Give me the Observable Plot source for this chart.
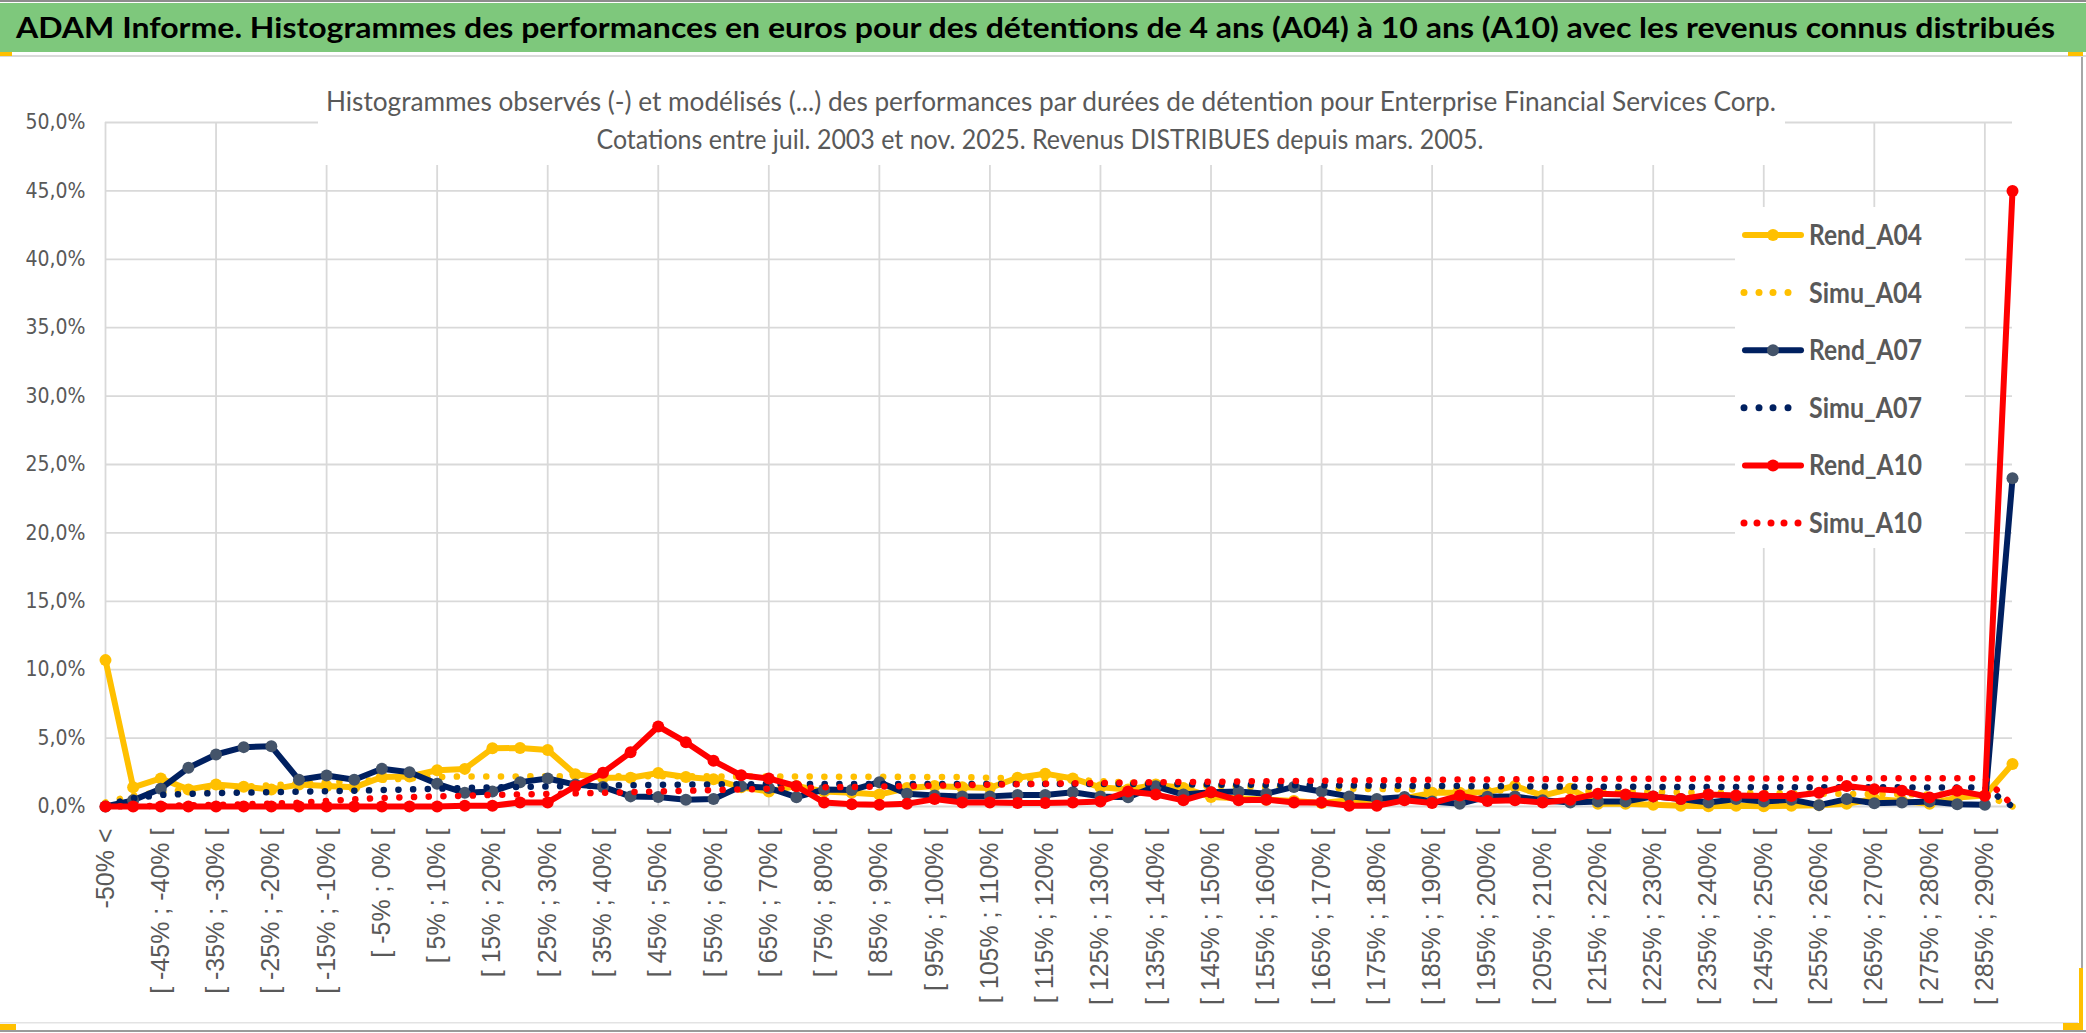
<!DOCTYPE html>
<html><head><meta charset="utf-8">
<script src="https://cdn.jsdelivr.net/npm/d3@7"></script>
<script src="https://cdn.jsdelivr.net/npm/@observablehq/plot@0.6"></script>
<style>
html,body{margin:0;padding:0;background:#fff;overflow:hidden;}
#wrap{position:relative;width:2086px;height:1033px;background:#fff;}
#wrap > svg{position:absolute;left:0;top:0;}
</style></head><body><div id="wrap"></div>
<script>
const categories = ["-50% <","[ -50% ; -45% [","[ -45% ; -40% [","[ -40% ; -35% [","[ -35% ; -30% [","[ -30% ; -25% [","[ -25% ; -20% [","[ -20% ; -15% [","[ -15% ; -10% [","[ -10% ; -5% [","[ -5% ; 0% [","[ 0% ; 5% [","[ 5% ; 10% [","[ 10% ; 15% [","[ 15% ; 20% [","[ 20% ; 25% [","[ 25% ; 30% [","[ 30% ; 35% [","[ 35% ; 40% [","[ 40% ; 45% [","[ 45% ; 50% [","[ 50% ; 55% [","[ 55% ; 60% [","[ 60% ; 65% [","[ 65% ; 70% [","[ 70% ; 75% [","[ 75% ; 80% [","[ 80% ; 85% [","[ 85% ; 90% [","[ 90% ; 95% [","[ 95% ; 100% [","[ 100% ; 105% [","[ 105% ; 110% [","[ 110% ; 115% [","[ 115% ; 120% [","[ 120% ; 125% [","[ 125% ; 130% [","[ 130% ; 135% [","[ 135% ; 140% [","[ 140% ; 145% [","[ 145% ; 150% [","[ 150% ; 155% [","[ 155% ; 160% [","[ 160% ; 165% [","[ 165% ; 170% [","[ 170% ; 175% [","[ 175% ; 180% [","[ 180% ; 185% [","[ 185% ; 190% [","[ 190% ; 195% [","[ 195% ; 200% [","[ 200% ; 205% [","[ 205% ; 210% [","[ 210% ; 215% [","[ 215% ; 220% [","[ 220% ; 225% [","[ 225% ; 230% [","[ 230% ; 235% [","[ 235% ; 240% [","[ 240% ; 245% [","[ 245% ; 250% [","[ 250% ; 255% [","[ 255% ; 260% [","[ 260% ; 265% [","[ 265% ; 270% [","[ 270% ; 275% [","[ 275% ; 280% [","[ 280% ; 285% [","[ 285% ; 290% [","> 290%"];

const rendA04 = [10.7,1.4,2.05,1.25,1.6,1.45,1.25,1.6,1.5,1.4, 2.15,2.2,2.65,2.75,4.25,4.28,4.13,2.35,2.1,2.1, 2.45,2.15,2.0,1.4,1.1,1.5,1.1,1.0,0.87,1.35, 1.5,1.4,1.36,2.1,2.4,2.05,1.4,1.25,1.6,1.36, 0.7,0.6,0.5,0.4,0.25,0.45,0.5,0.6,1.0,1.0, 1.05,1.5,0.8,1.3,0.2,0.2,0.12,0.05,0.02,0.05, 0.02,0.05,0.1,0.2,0.55,0.4,0.2,0.65,0.8,3.1];
const simuA04 = [0.3,0.8,1.05,1.2,1.35,1.45,1.55,1.65,1.75,1.85, 1.95,2.05,2.15,2.2,2.2,2.2,2.22,2.22,2.22,2.22, 2.22,2.22,2.2,2.2,2.2,2.2,2.18,2.18,2.18,2.16, 2.15,2.15,2.1,2.05,2.0,1.95,1.85,1.75,1.65,1.55, 1.5,1.45,1.4,1.37,1.34,1.3,1.28,1.25,1.22,1.2, 1.18,1.16,1.14,1.12,1.1,1.08,1.06,1.04,1.02,1.0, 0.98,0.96,0.94,0.92,0.9,0.89,0.88,0.86,0.85,0.0];
const rendA07 = [0.0,0.45,1.3,2.83,3.8,4.34,4.4,1.95,2.27,1.95, 2.76,2.5,1.66,1.0,1.1,1.78,2.05,1.6,1.43,0.74, 0.69,0.5,0.54,1.48,1.36,0.68,1.24,1.2,1.78,0.94, 0.8,0.74,0.74,0.84,0.84,1.04,0.74,0.68,1.48,0.87, 1.04,1.1,0.94,1.43,1.1,0.74,0.54,0.7,0.37,0.2, 0.72,0.74,0.45,0.3,0.37,0.37,0.74,0.54,0.3,0.54, 0.37,0.5,0.1,0.54,0.24,0.3,0.37,0.17,0.12,24.0];
const simuA07 = [0.1,0.6,0.85,0.92,0.98,1.02,1.05,1.08,1.12,1.16, 1.2,1.25,1.3,1.35,1.4,1.43,1.46,1.5,1.53,1.56, 1.58,1.6,1.62,1.63,1.64,1.65,1.65,1.65,1.65,1.65, 1.65,1.65,1.65,1.65,1.65,1.65,1.65,1.64,1.63,1.62, 1.6,1.59,1.58,1.56,1.55,1.54,1.52,1.51,1.5,1.49, 1.48,1.47,1.46,1.45,1.44,1.44,1.43,1.43,1.42,1.42, 1.41,1.41,1.4,1.4,1.4,1.4,1.39,1.39,1.39,0.0];
const rendA10 = [0,0,0,0,0,0,0,0,0,0, 0,0,0,0.05,0.05,0.3,0.3,1.48,2.47,3.96, 5.85,4.7,3.34,2.28,2.05,1.48,0.3,0.17,0.12,0.2, 0.54,0.3,0.3,0.25,0.25,0.3,0.37,1.1,0.87,0.45, 1.04,0.45,0.5,0.3,0.3,0.05,0.05,0.45,0.25,0.8, 0.4,0.45,0.3,0.5,0.94,0.87,0.74,0.54,0.87,0.8, 0.76,0.76,1.0,1.5,1.27,1.15,0.66,1.15,0.78,45.0];
const simuA10 = [0.0,0.02,0.05,0.08,0.12,0.16,0.21,0.27,0.4,0.52, 0.62,0.68,0.74,0.78,0.85,0.88,0.92,0.96,1.0,1.05, 1.1,1.15,1.2,1.25,1.3,1.35,1.4,1.43,1.46,1.5, 1.53,1.56,1.6,1.63,1.66,1.69,1.72,1.75,1.77,1.79, 1.81,1.83,1.85,1.87,1.89,1.9,1.92,1.94,1.95,1.97, 1.98,1.99,2.0,2.01,2.02,2.02,2.03,2.03,2.04,2.04, 2.05,2.05,2.05,2.06,2.06,2.06,2.07,2.07,2.07,0.1];

const seriesNames = ["Rend_A04","Simu_A04","Rend_A07","Simu_A07","Rend_A10","Simu_A10"];
const yTicks = [0,5,10,15,20,25,30,35,40,45,50];

const titleText = "ADAM Informe. Histogrammes des performances en euros pour des détentions de 4 ans (A04) à 10 ans (A10) avec les revenus connus distribués";
const subtitle1 = "Histogrammes observés (-) et modélisés (...) des performances par durées de détention pour Enterprise Financial Services Corp.";
const subtitle2 = "Cotations entre juil. 2003 et nov. 2025. Revenus DISTRIBUES depuis mars. 2005.";

const W = 2086, H = 1033;
const narrow = '"Liberation Sans Narrow","DejaVu Sans Condensed","Liberation Sans",sans-serif';
const humanist = 'Lato,"Open Sans","DejaVu Sans Condensed",sans-serif';
const YELLOW = "#FFC000", NAVY = "#002060", SLATE = "#44546A", RED = "#FF0000", GRID = "#d9d9d9", TXT = "#595959";

const series = [
  {name: seriesNames[0], values: rendA04, color: YELLOW, marker: YELLOW, dotted: false},
  {name: seriesNames[1], values: simuA04, color: YELLOW, dotted: true},
  {name: seriesNames[2], values: rendA07, color: NAVY, marker: SLATE, dotted: false},
  {name: seriesNames[3], values: simuA07, color: NAVY, dotted: true},
  {name: seriesNames[4], values: rendA10, color: RED, marker: RED, dotted: false},
  {name: seriesNames[5], values: simuA10, color: RED, dotted: true}
];
const rows = s => s.values.map((v, i) => ({cat: categories[i], v}));
const firstCat = categories[0], lastCat = categories[categories.length - 1];
const labelCats = categories.filter((c, i) => i % 2 === 0 && i < categories.length - 1);
const gridCats = categories.filter((c, i) => i % 4 === 0 && i < categories.length - 1);
const fmt = d => d.toFixed(1).replace(".", ",") + "%";

const marks = [
  Plot.ruleY(yTicks, {y: d => d, x1: () => firstCat, x2: () => lastCat, stroke: GRID, strokeWidth: 1.8}),
  Plot.ruleX(gridCats, {x: d => d, y1: 0, y2: 50, stroke: GRID, strokeWidth: 1.8}),
  Plot.text(yTicks, {x: () => firstCat, y: d => d, text: fmt, dx: -20, textAnchor: "end", fontSize: 21, fill: TXT, fontFamily: narrow}),
  Plot.text(labelCats, {x: d => d, y: () => 0, text: d => d, dy: 22, rotate: -90, textAnchor: "end", lineAnchor: "middle", fontSize: 25, fill: TXT, fontFamily: '"Liberation Sans",Arial,sans-serif'})
];
for (const s of series) {
  if (s.dotted) {
    marks.push(Plot.line(rows(s), {x: "cat", y: "v", stroke: s.color, strokeWidth: 6.5, strokeDasharray: "0.1 14.6", strokeLinecap: "round"}));
  } else {
    marks.push(Plot.line(rows(s), {x: "cat", y: "v", stroke: s.color, strokeWidth: 6, strokeLinejoin: "round", strokeLinecap: "round"}));
    marks.push(Plot.dot(rows(s), {x: "cat", y: "v", r: 6, fill: s.marker, stroke: "none"}));
  }
}

const chart = Plot.plot({
  width: W, height: H,
  marginLeft: 105, marginRight: 74, marginTop: 122, marginBottom: 227,
  x: {type: "point", domain: categories, padding: 0, axis: null},
  y: {domain: [0, 50], axis: null},
  style: {background: "transparent", overflow: "visible"},
  marks
});
document.getElementById("wrap").appendChild(chart);

// Decorations: title bar, subtitle, legend, borders
const ov = d3.select("#wrap").append("svg").attr("width", W).attr("height", H);
ov.append("rect").attr("x", 0).attr("y", 0).attr("width", W).attr("height", 2).attr("fill", "#8c8c8c");
ov.append("rect").attr("x", 0).attr("y", 3).attr("width", W).attr("height", 49).attr("fill", "#7EC87C");
ov.append("text").attr("x", 16).attr("y", 38).attr("font-family", humanist).attr("font-weight", "bold")
  .attr("font-size", 28).attr("fill", "#000").attr("textLength", 2039).attr("lengthAdjust", "spacingAndGlyphs").text(titleText);
ov.append("rect").attr("x", 0).attr("y", 55).attr("width", W).attr("height", 2).attr("fill", "#d9d9d9");
ov.append("rect").attr("x", 0).attr("y", 52).attr("width", 12).attr("height", 4).attr("fill", YELLOW);
ov.append("rect").attr("x", 2068).attr("y", 52).attr("width", 15).attr("height", 4).attr("fill", YELLOW);
// borders
ov.append("rect").attr("x", 2081).attr("y", 57).attr("width", 2).attr("height", 975).attr("fill", "#a6a6a6");
ov.append("rect").attr("x", 0).attr("y", 1030).attr("width", W).attr("height", 2).attr("fill", "#9a9a9a");
ov.append("rect").attr("x", 0).attr("y", 1022).attr("width", 2078).attr("height", 1.5).attr("fill", "#e3e3e3");
ov.append("rect").attr("x", 0).attr("y", 1024).attr("width", 16).attr("height", 6).attr("fill", YELLOW);
ov.append("rect").attr("x", 2063).attr("y", 1023).attr("width", 20).attr("height", 7).attr("fill", YELLOW);
ov.append("rect").attr("x", 2079).attr("y", 968).attr("width", 4).attr("height", 60).attr("fill", YELLOW);

// subtitle box
ov.append("rect").attr("x", 318).attr("y", 78).attr("width", 1467).attr("height", 87).attr("fill", "#fff");
ov.append("text").attr("x", 1051).attr("y", 111).attr("text-anchor", "middle").attr("font-family", humanist)
  .attr("font-size", 27).attr("fill", TXT).attr("textLength", 1450).attr("lengthAdjust", "spacingAndGlyphs").text(subtitle1);
ov.append("text").attr("x", 1040).attr("y", 149).attr("text-anchor", "middle").attr("font-family", humanist)
  .attr("font-size", 27).attr("fill", TXT).attr("textLength", 887).attr("lengthAdjust", "spacingAndGlyphs").text(subtitle2);

// legend
ov.append("rect").attr("x", 1735).attr("y", 207).attr("width", 230).attr("height", 341).attr("fill", "#fff");
series.forEach((s, k) => {
  const cy = 235 + k * 57.6;
  const g = ov.append("g");
  if (s.dotted) {
    const xs = s.color === RED ? [1744, 1757, 1771, 1784, 1798] : [1744, 1759, 1773, 1788];
    xs.forEach(x => g.append("circle").attr("cx", x).attr("cy", cy).attr("r", 3.5).attr("fill", s.color));
  } else {
    g.append("line").attr("x1", 1745).attr("x2", 1801).attr("y1", cy).attr("y2", cy)
      .attr("stroke", s.color).attr("stroke-width", 6).attr("stroke-linecap", "round");
    g.append("circle").attr("cx", 1773).attr("cy", cy).attr("r", 6).attr("fill", s.marker);
  }
  g.append("text").attr("x", 1809).attr("y", cy + 10).attr("font-family", humanist).attr("font-weight", "bold")
    .attr("font-size", 29).attr("fill", TXT).attr("textLength", 113).attr("lengthAdjust", "spacingAndGlyphs").text(s.name);
});
</script></body></html>
